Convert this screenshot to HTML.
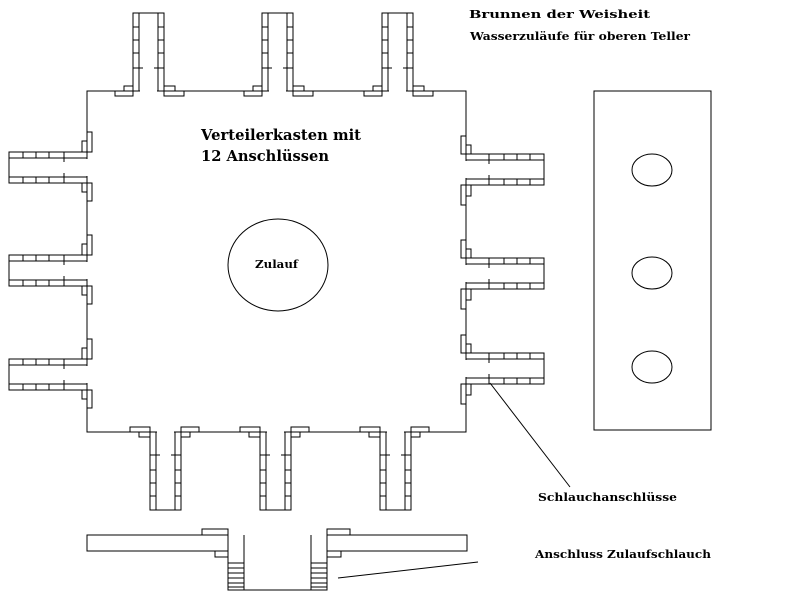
<!DOCTYPE html>
<html><head><meta charset="utf-8"><style>
html,body{margin:0;padding:0;background:#fff;width:800px;height:600px;overflow:hidden}
svg{display:block}
text{font-family:"DejaVu Serif","Liberation Serif",serif;font-weight:bold;fill:#000}
</style></head><body>
<svg width="800" height="600" viewBox="0 0 800 600" xmlns="http://www.w3.org/2000/svg">
<defs>
<g id="c" fill="none" stroke="#000" stroke-width="1">
  <line x1="7" y1="0" x2="24" y2="0" stroke="#fff" stroke-width="3"/>
  <path d="M0 0V-78H31V0 M6 0V-78 M25 0V-78"/>
  <path d="M0 -64H6 M0 -51H6 M0 -38H6 M0 -23H10 M25 -64H31 M25 -51H31 M25 -38H31 M21 -23H31"/>
  <rect x="-18" y="0" width="18" height="5"/>
  <rect x="-9" y="-5" width="9" height="5"/>
  <rect x="31" y="0" width="20" height="5"/>
  <rect x="31" y="-5" width="11" height="5"/>
</g>
</defs>
<g fill="none" stroke="#000" stroke-width="1">
<rect x="87" y="91" width="379" height="341"/>
</g>
<use href="#c" transform="translate(133,91)"/>
<use href="#c" transform="translate(262,91)"/>
<use href="#c" transform="translate(382,91)"/>
<use href="#c" transform="translate(181,432) rotate(180)"/>
<use href="#c" transform="translate(291,432) rotate(180)"/>
<use href="#c" transform="translate(411,432) rotate(180)"/>
<use href="#c" transform="translate(87,183) rotate(-90)"/>
<use href="#c" transform="translate(87,286) rotate(-90)"/>
<use href="#c" transform="translate(87,390) rotate(-90)"/>
<use href="#c" transform="translate(466,154) rotate(90)"/>
<use href="#c" transform="translate(466,258) rotate(90)"/>
<use href="#c" transform="translate(466,353) rotate(90)"/>
<g fill="none" stroke="#000" stroke-width="1">
<ellipse cx="278" cy="265" rx="50" ry="46"/>
<rect x="594" y="91" width="117" height="339"/>
<ellipse cx="652" cy="170" rx="20" ry="16"/>
<ellipse cx="652" cy="273" rx="20" ry="16"/>
<ellipse cx="652" cy="367" rx="20" ry="16"/>
<line x1="490" y1="383" x2="570" y2="487"/>
<line x1="338" y1="578" x2="478" y2="562"/>
<rect x="87" y="535" width="141" height="16"/>
<rect x="327" y="535" width="140" height="16"/>
<rect x="202" y="529" width="26" height="6"/>
<rect x="215" y="551" width="13" height="6"/>
<rect x="327" y="529" width="23" height="6"/>
<rect x="327" y="551" width="14" height="6"/>
<path d="M228 529V590H327V529 M244 535V590 M311 535V590"/>
<path d="M228 563H244 M228 568H244 M228 573H244 M228 578H244 M228 583H244 M228 587H244"/>
<path d="M311 563H327 M311 568H327 M311 573H327 M311 578H327 M311 583H327 M311 587H327"/>
</g>
<text x="469" y="18" font-size="11" font-weight="bold" textLength="181" lengthAdjust="spacingAndGlyphs">Brunnen der Weisheit</text>
<text x="470" y="40" font-size="11" font-weight="bold" textLength="220" lengthAdjust="spacingAndGlyphs">Wasserzuläufe für oberen Teller</text>
<text x="201" y="140" font-size="15" font-weight="bold" textLength="160" lengthAdjust="spacingAndGlyphs">Verteilerkasten mit</text>
<text x="201" y="161" font-size="15" font-weight="bold" textLength="128" lengthAdjust="spacingAndGlyphs">12 Anschlüssen</text>
<text x="255" y="268" font-size="11" font-weight="bold" textLength="43" lengthAdjust="spacingAndGlyphs">Zulauf</text>
<text x="538" y="501" font-size="11" font-weight="bold" textLength="139" lengthAdjust="spacingAndGlyphs">Schlauchanschlüsse</text>
<text x="535" y="558" font-size="11" font-weight="bold" textLength="176" lengthAdjust="spacingAndGlyphs">Anschluss Zulaufschlauch</text>
</svg>
</body></html>
